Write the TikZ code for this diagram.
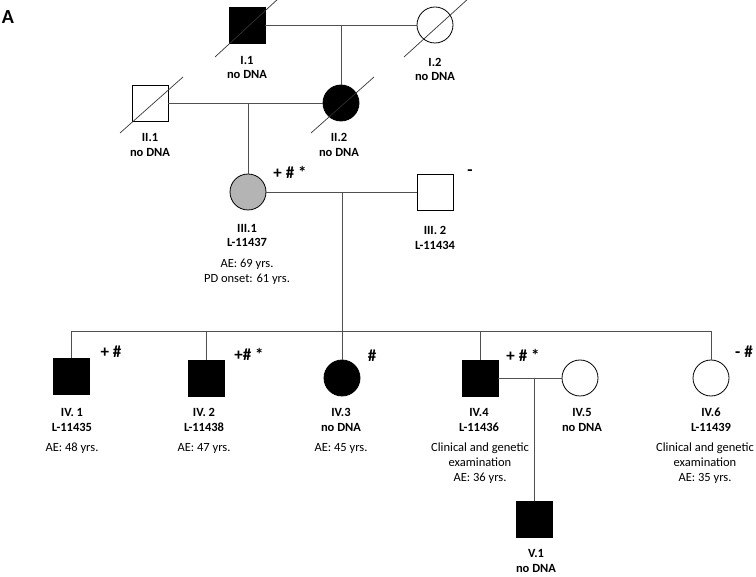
\documentclass[tikz,border=0pt]{standalone}
\usepackage{fontspec}
\setmainfont{Carlito}
\definecolor{carrier}{RGB}{180,180,180}
\definecolor{linegrey}{RGB}{80,80,80}
\tikzset{
  sq/.style={rectangle, draw=black, line width=0.8pt, minimum size=36pt, inner sep=0pt},
  ci/.style={circle, draw=black, line width=0.8pt, minimum size=36pt, inner sep=0pt},
  aff/.style={fill=black},
  car/.style={fill=carrier},
  ln/.style={draw=linegrey, line width=0.8pt},
  dead/.style={draw=black!80, line width=0.7pt},
  lab/.style={font=\bfseries\fontsize{12.5}{14.5}\selectfont, align=center, inner sep=0pt},
  txt/.style={font=\fontsize{12.5}{15}\selectfont, align=center, inner sep=0pt},
  mk/.style={font=\bfseries\fontsize{17}{17}\selectfont, inner sep=0pt}
}
\begin{document}
\begin{tikzpicture}[x=1pt,y=-1pt]
\useasboundingbox (0,0) rectangle (756,577);
\node[font=\bfseries\fontsize{20}{20}\selectfont, inner sep=0pt] (A) at (8,17) {A};

% generation I
\node[sq,aff] (I1) at (247,25) {};
\node[ci] (I2) at (435,25) {};
% generation II
\node[sq] (II1) at (150,103) {};
\node[ci,aff] (II2) at (341,103) {};
% generation III
\node[ci,car] (III1) at (248,192) {};
\node[sq] (III2) at (435,192) {};
% generation IV
\node[sq,aff] (IV1) at (71,376) {};
\node[sq,aff] (IV2) at (206,378) {};
\node[ci,aff] (IV3) at (342,378) {};
\node[sq,aff] (IV4) at (480,378) {};
\node[ci] (IV5) at (580,378) {};
\node[ci] (IV6) at (711,378) {};
% generation V
\node[sq,aff] (V1) at (534,519) {};

% couples and descent
\coordinate (m1) at (341,25);
\coordinate (m2) at (248,103);
\coordinate (m3) at (342,192);
\coordinate (s) at (342,331);
\coordinate (m4) at (534,378);
\draw[ln] (I1.east) -- (I2.west);
\draw[ln] (m1) -- (II2.north);
\draw[ln] (II1.east) -- (II2.west);
\draw[ln] (m2) -- (III1.north);
\draw[ln] (III1.east) -- (III2.west);
\draw[ln] (m3) -- (s);
\draw[ln] (IV1.north |- s) -- (IV6.north |- s);
\draw[ln] (IV1.north |- s) -- (IV1.north);
\draw[ln] (IV2.north |- s) -- (IV2.north);
\draw[ln] (IV3.north |- s) -- (IV3.north);
\draw[ln] (IV4.north |- s) -- (IV4.north);
\draw[ln] (IV6.north |- s) -- (IV6.north);
\draw[ln] (IV4.east) -- (IV5.west);
\draw[ln] (m4) -- (V1.north);

% deceased
\draw[dead] ([shift={(-32,32)}]I1.center) -- ([shift={(32,-27)}]I1.center);
\draw[dead] ([shift={(-31,32)}]I2.center) -- ([shift={(34,-27)}]I2.center);
\draw[dead] ([shift={(-30,30)}]II1.center) -- ([shift={(33,-26)}]II1.center);
\draw[dead] ([shift={(-30,30)}]II2.center) -- ([shift={(33,-26)}]II2.center);

% labels
\node[lab] (lI1) at (247,67.5) {I.1\\no DNA};
\node[lab] (lI2) at (435,69.5) {I.2\\no DNA};
\node[lab] (lII1) at (150,145) {II.1\\no DNA};
\node[lab] (lII2) at (339,145) {II.2\\no DNA};
\node[lab] (lIII1) at (247,235.5) {III.1\\L-11437};
\node[txt] (tIII1) at (247,271.5) {AE: 69 yrs.\\PD onset: 61 yrs.};
\node[lab] (lIII2) at (435,238) {III. 2\\L-11434};
\node[lab] (lIV1) at (72,420) {IV. 1\\L-11435};
\node[lab] (lIV2) at (204,420) {IV. 2\\L-11438};
\node[lab] (lIV3) at (341,420) {IV.3\\no DNA};
\node[lab] (lIV4) at (479,420) {IV.4\\L-11436};
\node[lab] (lIV5) at (582,420) {IV.5\\no DNA};
\node[lab] (lIV6) at (711,420) {IV.6\\L-11439};
\node[txt] (tIV1) at (72,448) {AE: 48 yrs.};
\node[txt] (tIV2) at (204,448) {AE: 47 yrs.};
\node[txt] (tIV3) at (341,448) {AE: 45 yrs.};
\node[txt] (tIV4) at (480,463) {Clinical and genetic\\examination\\AE: 36 yrs.};
\node[txt] (tIV6) at (705,463) {Clinical and genetic\\examination\\AE: 35 yrs.};
\node[lab] (lV1) at (536,561) {V.1\\no DNA};

% genotype marks
\node[mk] (kIII1) at (290,172) {+ \# *};
\node[mk] (kIII2) at (470,173) {-};
\node[mk] (kIV1) at (111,352) {+ \#};
\node[mk] (kIV2) at (249,354) {+\# *};
\node[mk] (kIV3) at (372,356) {\#};
\node[mk] (kIV4) at (523,355) {+ \# *};
\node[mk] (kIV6) at (744,352) {- \#};
\end{tikzpicture}
\end{document}
